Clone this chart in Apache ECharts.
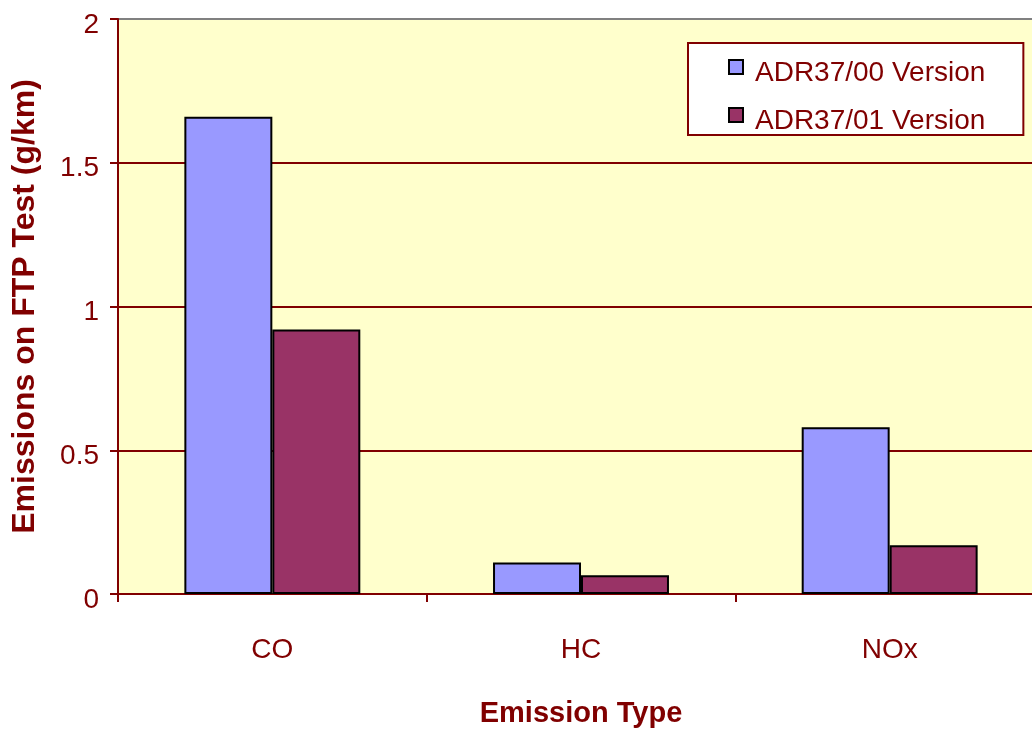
<!DOCTYPE html>
<html>
<head>
<meta charset="utf-8">
<script src="https://cdn.jsdelivr.net/npm/echarts@6/dist/echarts.min.js"></script>
<style>
  html, body { margin: 0; padding: 0; background: #ffffff; }
  /* the plot runs slightly past the right edge of the page */
  #frame { position: relative; width: 1032px; height: 733px; overflow: hidden; }
  #chart { position: absolute; left: 0; top: 0; width: 1044px; height: 733px; }
</style>
</head>
<body>
<div id="frame"><div id="chart"></div></div>
<script>
// Emission categories and per-version results (g/km on the FTP test)
const categories = ['CO', 'HC', 'NOx'];
const seriesNames = ['ADR37/00 Version', 'ADR37/01 Version'];
const adr3700 = [1.66, 0.11, 0.58];
const adr3701 = [0.92, 0.065, 0.17];
const yTicks = [0, 0.5, 1, 1.5, 2];

const DARK_RED = '#800000';
const FONT = '"Liberation Sans", Arial, sans-serif';

// legend swatch: a 14px square sitting in the upper part of a taller box,
// so the swatch rides a little above the centre of its label
const SWATCH = 'path://M0,0L14,0L14,14L0,14Z M0,26';

const chart = echarts.init(document.getElementById('chart'), null, { renderer: 'canvas' });

chart.setOption({
  animation: false,
  backgroundColor: '#ffffff',
  textStyle: { fontFamily: FONT },
  grid: {
    left: 118,
    top: 19,
    right: 0,
    height: 579,
    show: true,
    backgroundColor: '#FFFFCC',
    borderWidth: 0
  },
  legend: {
    orient: 'vertical',
    left: 688,
    top: 43,
    padding: [16, 38, 0, 40],
    backgroundColor: '#ffffff',
    borderColor: DARK_RED,
    borderWidth: 2,
    itemGap: 20,
    itemWidth: 14,
    itemHeight: 26,
    icon: SWATCH,
    textStyle: {
      color: DARK_RED,
      fontSize: 28,
      fontFamily: FONT,
      lineHeight: 28,
      padding: [0, 0, 0, 7]
    },
    data: seriesNames
  },
  xAxis: {
    type: 'category',
    data: categories,
    name: 'Emission Type',
    nameLocation: 'middle',
    nameGap: 105,
    nameTextStyle: { color: DARK_RED, fontSize: 29, fontWeight: 'bold', fontFamily: FONT },
    axisLine: { lineStyle: { color: DARK_RED, width: 2 } },
    axisTick: { show: true, length: 8, lineStyle: { color: DARK_RED, width: 2 } },
    axisLabel: { color: DARK_RED, fontSize: 28, margin: 42, fontFamily: FONT },
    splitLine: { show: false }
  },
  yAxis: {
    type: 'value',
    min: yTicks[0],
    max: yTicks[yTicks.length - 1],
    interval: yTicks[1] - yTicks[0],
    name: 'Emissions on FTP Test (g/km)',
    nameLocation: 'middle',
    nameGap: 77,
    nameTextStyle: { color: DARK_RED, fontSize: 32, fontWeight: 'bold', fontFamily: FONT },
    axisLine: { show: true, lineStyle: { color: DARK_RED, width: 2 } },
    axisTick: { show: true, length: 8, lineStyle: { color: DARK_RED, width: 2 } },
    axisLabel: {
      color: DARK_RED,
      fontSize: 28,
      margin: 19,
      fontFamily: FONT,
      verticalAlign: 'top',
      lineHeight: 12,
      formatter: v => String(v)
    },
    splitLine: {
      show: true,
      lineStyle: {
        width: 2,
        color: [DARK_RED, DARK_RED, DARK_RED, DARK_RED, '#808080']
      }
    }
  },
  series: [
    {
      name: seriesNames[0],
      type: 'bar',
      data: adr3700,
      barGap: '0%',
      barCategoryGap: '43%',
      itemStyle: { color: '#9999FF', borderColor: '#000000', borderWidth: 2 }
    },
    {
      name: seriesNames[1],
      type: 'bar',
      data: adr3701,
      barGap: '0%',
      barCategoryGap: '43%',
      itemStyle: { color: '#993366', borderColor: '#000000', borderWidth: 2 }
    }
  ]
});
</script>
</body>
</html>
